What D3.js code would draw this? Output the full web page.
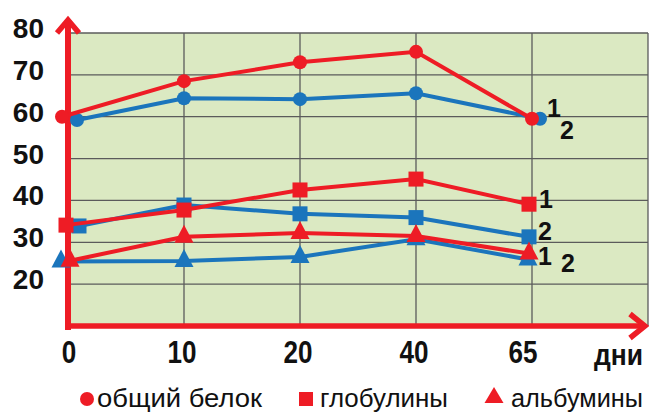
<!DOCTYPE html>
<html><head><meta charset="utf-8">
<script src="https://cdn.jsdelivr.net/npm/d3@7/dist/d3.min.js"></script>
<style>
html,body{margin:0;padding:0;background:#fff;}
svg{display:block;}
</style></head>
<body>
<svg id="chart" width="649" height="412"></svg>
<script>
// ---- data ----
const days = ["0", "10", "20", "40", "65"];
const totalProtein1 = [60, 68.5, 73, 75.5, 59.5];
const totalProtein2 = [59.2, 64.4, 64.2, 65.6, 59.5];
const globulins1 = [34.1, 37.7, 42.5, 45.1, 39.1];
const globulins2 = [33.9, 38.9, 36.8, 35.9, 31.3];
const albumins1 = [25.6, 31.3, 32.2, 31.5, 27.3];
const albumins2 = [25.4, 25.5, 26.5, 30.7, 25.9];
const yTicks = [20, 30, 40, 50, 60, 70, 80];
const unitLabel = "дни";
const legendLabels = ["общий белок", "глобулины", "альбумины"];
const groupLabels = ["1", "2"];

// ---- setup ----
const RED = "#ee1c25", BLUE = "#1b75bc", GREEN = "#dbe9c2", GRID = "#5b5b5b";
const svg = d3.select("#chart");
const narrow = "'Liberation Sans Narrow','Arial Narrow','Liberation Sans',Arial,sans-serif";
const sans = "'Liberation Sans',Arial,sans-serif";

const x = d3.scalePoint().domain(days.concat(["end"])).range([68, 648]);
const y = d3.scaleLinear().domain([10, 80]).range([326, 33]);

// plot background
svg.append("rect").attr("x", x("0")).attr("y", y(80))
  .attr("width", x("end") - x("0")).attr("height", y(10) - y(80)).attr("fill", GREEN);

// grid
const g = svg.append("g");
g.selectAll("line.h").data(yTicks).join("line")
  .attr("x1", x("0")).attr("x2", x("end")).attr("y1", d => y(d)).attr("y2", d => y(d))
  .attr("stroke", GRID).attr("stroke-width", 1.3);
g.selectAll("line.v").data(days.slice(1).concat(["end"])).join("line")
  .attr("x1", d => x(d)).attr("x2", d => x(d)).attr("y1", y(80)).attr("y2", y(10))
  .attr("stroke", GRID).attr("stroke-width", 1.3);

// axes (red with arrows)
svg.append("line").attr("x1", x("0")).attr("x2", x("0")).attr("y1", y(10) + 4).attr("y2", 21)
  .attr("stroke", RED).attr("stroke-width", 6);
svg.append("polyline").attr("points", `${x("0")-11},33 ${x("0")},20 ${x("0")+11},33`)
  .attr("fill", "none").attr("stroke", RED).attr("stroke-width", 5.5);
svg.append("line").attr("x1", x("0") - 3).attr("x2", 645).attr("y1", y(10)).attr("y2", y(10))
  .attr("stroke", RED).attr("stroke-width", 5.5);
svg.append("polyline").attr("points", `630,314 645,${y(10)} 630,338`)
  .attr("fill", "none").attr("stroke", RED).attr("stroke-width", 5.5);

// y tick labels
svg.selectAll("text.yt").data(yTicks).join("text")
  .attr("x", 44).attr("y", d => y(d) + 5).attr("text-anchor", "end")
  .attr("font-family", sans).attr("font-weight", "bold").attr("font-size", 28).attr("fill", "#111")
  .text(d => d);

// x tick labels (condensed look)
const xLabelShift = {"0": 1, "10": -2, "20": -2, "40": -2, "65": -9};
svg.selectAll("text.xt").data(days).join("text")
  .attr("x", d => x(d) + xLabelShift[d]).attr("y", 363).attr("text-anchor", "middle")
  .attr("textLength", d => d.length * 14.5).attr("lengthAdjust", "spacingAndGlyphs")
  .attr("font-family", narrow).attr("font-weight", "bold").attr("font-size", 31).attr("fill", "#111")
  .text(d => d);
svg.append("text").attr("x", 594).attr("y", 365)
  .attr("textLength", 49).attr("lengthAdjust", "spacingAndGlyphs")
  .attr("font-family", narrow).attr("font-weight", "bold").attr("font-size", 30).attr("fill", "#111")
  .text(unitLabel);

// series
const series = [
  {vals: totalProtein2, color: BLUE, shape: "circle", dx: [9, 0, 0, 0, 8]},
  {vals: globulins2, color: BLUE, shape: "square", dx: [11, 0, 0, 0, -3]},
  {vals: albumins2, color: BLUE, shape: "triangle", dx: [-7, 0, 0, 0, -4]},
  {vals: totalProtein1, color: RED, shape: "circle", dx: [-6, 0, 0, 0, 0]},
  {vals: globulins1, color: RED, shape: "square", dx: [-2, 0, 0, 0, -3]},
  {vals: albumins1, color: RED, shape: "triangle", dx: [2, 0, 0, 0, -3]}
];
const line = d3.line().x(d => d[0]).y(d => d[1]);
function marker(sel, shape, color) {
  if (shape === "circle") sel.append("circle").attr("r", 7).attr("fill", color);
  else if (shape === "square") sel.append("rect").attr("x", -7.5).attr("y", -7.5).attr("width", 15).attr("height", 15).attr("fill", color);
  else sel.append("path").attr("d", "M0,-12L9.5,6L-9.5,6Z").attr("fill", color);
}
series.forEach(s => {
  const pts = s.vals.map((v, i) => [x(days[i]) + s.dx[i], y(v)]);
  svg.append("path").attr("d", line(pts)).attr("fill", "none")
    .attr("stroke", s.color).attr("stroke-width", 4);
  pts.forEach(p => {
    const m = svg.append("g").attr("transform", `translate(${p[0]},${p[1]})`);
    marker(m, s.shape, s.color);
  });
});

// end labels "1" / "2"
const last = days[days.length - 1];
const endLabels = [
  {t: groupLabels[0], v: totalProtein1[4], dx: 15, dy: -2},
  {t: groupLabels[1], v: totalProtein2[4], dx: 28, dy: 20},
  {t: groupLabels[0], v: globulins1[4], dx: 7, dy: 4},
  {t: groupLabels[1], v: globulins2[4], dx: 6, dy: 3},
  {t: groupLabels[0], v: albumins1[4], dx: 6, dy: 11.5},
  {t: groupLabels[1], v: albumins2[4], dx: 29, dy: 12.5}
];
svg.selectAll("text.el").data(endLabels).join("text")
  .attr("x", d => x(last) + d.dx).attr("y", d => y(d.v) + d.dy)
  .attr("font-family", sans).attr("font-weight", "bold").attr("font-size", 25).attr("fill", "#111")
  .text(d => d.t);

// legend
const lg = svg.append("g");
lg.append("circle").attr("cx", 87).attr("cy", 399).attr("r", 7).attr("fill", RED);
lg.append("rect").attr("x", 299).attr("y", 392).attr("width", 14).attr("height", 14).attr("fill", RED);
lg.append("path").attr("d", "M494,387L503.5,403L484.5,403Z").attr("fill", RED);
const legPos = [{x: 97, w: 165}, {x: 320, w: 128}, {x: 511, w: 132}];
lg.selectAll("text").data(legendLabels).join("text")
  .attr("x", (d, i) => legPos[i].x).attr("y", 407)
  .attr("textLength", (d, i) => legPos[i].w).attr("lengthAdjust", "spacingAndGlyphs")
  .attr("font-family", narrow).attr("font-size", 26).attr("fill", "#111")
  .text(d => d);
</script>
</body></html>
